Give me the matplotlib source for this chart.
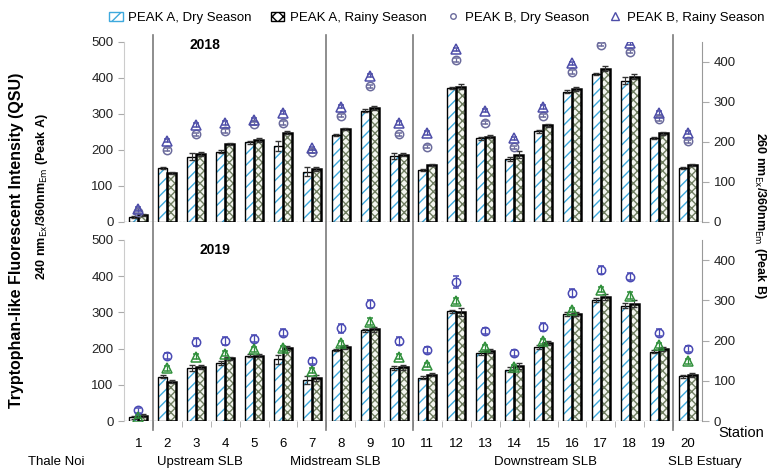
import matplotlib.pyplot as plt
from matplotlib.patches import Patch
from matplotlib.lines import Line2D
import numpy as np

plt.rcParams['font.family'] = ['Liberation Sans', 'DejaVu Sans']
plt.rcParams['hatch.linewidth'] = 1.0

# Data
stations = list(range(1, 21))
station_labels = [str(s) for s in stations]

# Peak A (left axis), 2018
a_dry_2018 = [12, 150, 181, 195, 221, 211, 139, 242, 309, 183,
              144, 372, 232, 174, 251, 362, 411, 392, 232, 150]
a_rainy_2018 = [19, 135, 188, 216, 228, 248, 146, 258, 316, 186,
                158, 376, 237, 186, 268, 370, 426, 404, 246, 158]
a_dry_err_2018 = [3, 3, 10, 4, 4, 14, 12, 3, 4, 8, 3, 4, 4, 5, 4, 5, 3, 10, 3, 3]
a_rainy_err_2018 = [3, 3, 5, 3, 5, 3, 6, 4, 5, 4, 3, 6, 5, 10, 5, 5, 6, 8, 4, 3]
# Peak B (right axis), 2018
b_dry_2018 = [25, 180, 219, 227, 245, 247, 175, 265, 339, 219,
              188, 405, 248, 186, 265, 375, 443, 426, 257, 201]
b_rainy_2018 = [32, 203, 242, 247, 255, 273, 184, 288, 366, 247,
                222, 432, 278, 209, 287, 397, np.nan, 447, 272, 223]

# Peak A (left axis), 2019
a_dry_2019 = [10, 122, 147, 161, 180, 170, 113, 196, 251, 147,
              119, 303, 188, 142, 204, 295, 335, 319, 191, 124]
a_rainy_2019 = [15, 109, 150, 173, 180, 201, 118, 205, 253, 148,
                128, 301, 193, 151, 216, 295, 342, 324, 199, 127]
a_dry_err_2019 = [4, 4, 8, 6, 4, 12, 10, 4, 4, 6, 4, 4, 5, 6, 5, 6, 5, 8, 4, 4]
a_rainy_err_2019 = [5, 4, 6, 5, 4, 5, 8, 6, 8, 6, 4, 12, 6, 8, 6, 6, 8, 10, 6, 6]
# Peak B (right axis), 2019
b_dry_2019 = [27, 162, 196, 199, 205, 220, 149, 230, 292, 199,
              177, 346, 224, 169, 233, 319, 375, 359, 220, 179]
b_rainy_2019 = [11, 131, 160, 167, 178, 181, 125, 193, 247, 160,
                139, 299, 183, 134, 198, 276, 326, 312, 188, 148]
b_dry_err_2019 = [6, 8, 10, 10, 8, 8, 8, 10, 10, 10, 8, 15, 8, 8, 10, 10, 10, 8, 8, 8]
b_rainy_err_2019 = [4, 6, 6, 6, 6, 6, 6, 6, 8, 6, 5, 8, 6, 6, 6, 6, 6, 8, 6, 6]

groups = ['Thale Noi', 'Upstream SLB', 'Midstream SLB', 'Downstream SLB', 'SLB Estuary']
group_x = [56, 200, 335, 545, 705]  # label centres in pixels
separators = [1.5, 7.5, 10.5, 19.5]

dry_hatch = '#3ea9dd'
rainy_hatch = '#6f7d60'

W, H = 775, 470
fig = plt.figure(figsize=(W / 100, H / 100), dpi=100)
fig.patch.set_facecolor('white')

ax_top = fig.add_axes([124 / W, 1 - 221.7 / H, 578 / W, 179.7 / H])
ax_bot = fig.add_axes([124 / W, 1 - 421 / H, 578 / W, 181 / H])

x = np.array(stations)
bw = 0.31


def draw_panel(ax, dry, rainy, dry_err, rainy_err, bdry, brainy, bdry_err, brainy_err,
               circ_col, tri_col, year, year_pos):
    # hatch layer
    ax.bar(x - bw / 2, dry, bw, facecolor='white', edgecolor=dry_hatch, hatch='///', linewidth=0, zorder=2)
    ax.bar(x + bw / 2, rainy, bw, facecolor='#f4f6f0', edgecolor=rainy_hatch, hatch='xxxx', linewidth=0, zorder=2)
    # outlines
    ax.bar(x - bw / 2, dry, bw, facecolor='none', edgecolor='black', linewidth=1.0, zorder=3)
    ax.bar(x + bw / 2, rainy, bw, facecolor='none', edgecolor='black', linewidth=1.8, zorder=3)
    ax.errorbar(x - bw / 2, dry, yerr=dry_err, fmt='none', ecolor='#333333', elinewidth=0.8,
                capsize=2, zorder=4)
    ax.errorbar(x + bw / 2, rainy, yerr=rainy_err, fmt='none', ecolor='#333333', elinewidth=0.8,
                capsize=2, zorder=4)

    ax.set_xlim(0.5, 20.5)
    ax.set_ylim(0, 500)
    ax.set_yticks([0, 100, 200, 300, 400, 500])
    ax.tick_params(axis='y', labelsize=9.5, length=4, color='#aaaaaa', labelcolor='#222222')
    ax.axhline(0, color='#999999', lw=1.0, ls=(0, (2, 1)), zorder=1)
    for s in ['top', 'right', 'bottom']:
        ax.spines[s].set_visible(False)
    ax.spines['left'].set_color('#cccccc')

    ax2 = ax.twinx()
    ax2.set_ylim(0, 450)
    ax2.set_yticks([0, 100, 200, 300, 400])
    ax2.tick_params(axis='y', labelsize=9.5, length=5, color='#aaaaaa', labelcolor='#222222')
    for s in ['top', 'left', 'bottom']:
        ax2.spines[s].set_visible(False)
    ax2.spines['right'].set_color('#999999')
    ax2.errorbar(x, bdry, yerr=bdry_err, fmt='o', ms=6, mfc='none', mec=circ_col, mew=1.1,
                 ecolor=circ_col, elinewidth=0.9, capsize=2, zorder=5)
    ax2.errorbar(x, brainy, yerr=brainy_err, fmt='^', ms=7, mfc='none', mec=tri_col, mew=1.1,
                 ecolor=tri_col, elinewidth=0.9, capsize=2, zorder=5)
    ax.text(year_pos[0], year_pos[1], year, transform=ax.transAxes,
            fontsize=10, fontweight='bold', ha='center', va='center')
    return ax2


axt2 = draw_panel(ax_top, a_dry_2018, a_rainy_2018, a_dry_err_2018, a_rainy_err_2018,
                  b_dry_2018, b_rainy_2018, 4, 4, '#6b6b9c', '#4d4da8', '2018', (0.14, 0.985))
ax_top.set_xticks([])

axb2 = draw_panel(ax_bot, a_dry_2019, a_rainy_2019, a_dry_err_2019, a_rainy_err_2019,
                  b_dry_2019, b_rainy_2019, b_dry_err_2019, b_rainy_err_2019,
                  '#4a4ab4', '#2f8f3a', '2019', (0.157, 0.945))
ax_bot.set_xticks(x)
ax_bot.set_xticklabels(station_labels, fontsize=9.5)
ax_bot.tick_params(axis='x', which='major', length=0, pad=12)
ax_bot.set_xticks(np.arange(1.5, 20.5, 1), minor=True)
ax_bot.tick_params(axis='x', which='minor', length=4, color='#aaaaaa')

# vertical group separators across both panels
for s in separators:
    px = 124 + (s - 0.5) * 578 / 20
    fig.add_artist(Line2D([px / W, px / W], [1 - 35 / H, 1 - 430 / H],
                          color='#7a7a7a', lw=1.2, transform=fig.transFigure))

for g, gx in zip(groups, group_x):
    fig.text(gx / W, 1 - 462 / H, g, ha='center', va='center', fontsize=9.5)

fig.text(741 / W, 1 - 433 / H, 'Station', ha='center', va='center', fontsize=10.5)

fig.text(17 / W, 1 - 240 / H, 'Tryptophan-like Fluorescent Intensity (QSU)', rotation=90,
         ha='center', va='center', fontsize=11.5, fontweight='bold')
fig.text(42 / W, 1 - 197 / H, r'240 nm$_{\rm Ex}$/360nm$_{\rm Em}$ (Peak A)', rotation=90,
         ha='center', va='center', fontsize=9, fontweight='bold')
fig.text(760 / W, 1 - 215 / H, r'260 nm$_{\rm Ex}$/360nm$_{\rm Em}$ (Peak B)', rotation=-90,
         ha='center', va='center', fontsize=9, fontweight='bold')

handles = [
    Patch(facecolor='white', edgecolor=dry_hatch, hatch='///', label='PEAK A, Dry Season'),
    Patch(facecolor='white', edgecolor='black', hatch='xxx', label='PEAK A, Rainy Season'),
    Line2D([], [], marker='o', ls='none', ms=4, mfc='none', mec='#6b6b9c', label='PEAK B, Dry Season'),
    Line2D([], [], marker='^', ls='none', ms=6, mfc='none', mec='#4d4da8', label='PEAK B, Rainy Season'),
]
fig.legend(handles=handles, loc='center', bbox_to_anchor=(437 / W, 1 - 18 / H), ncol=4,
           frameon=False, fontsize=9.5, handlelength=1.0, handletextpad=0.4, columnspacing=1.5)

fig.savefig('out.png', dpi=100)
